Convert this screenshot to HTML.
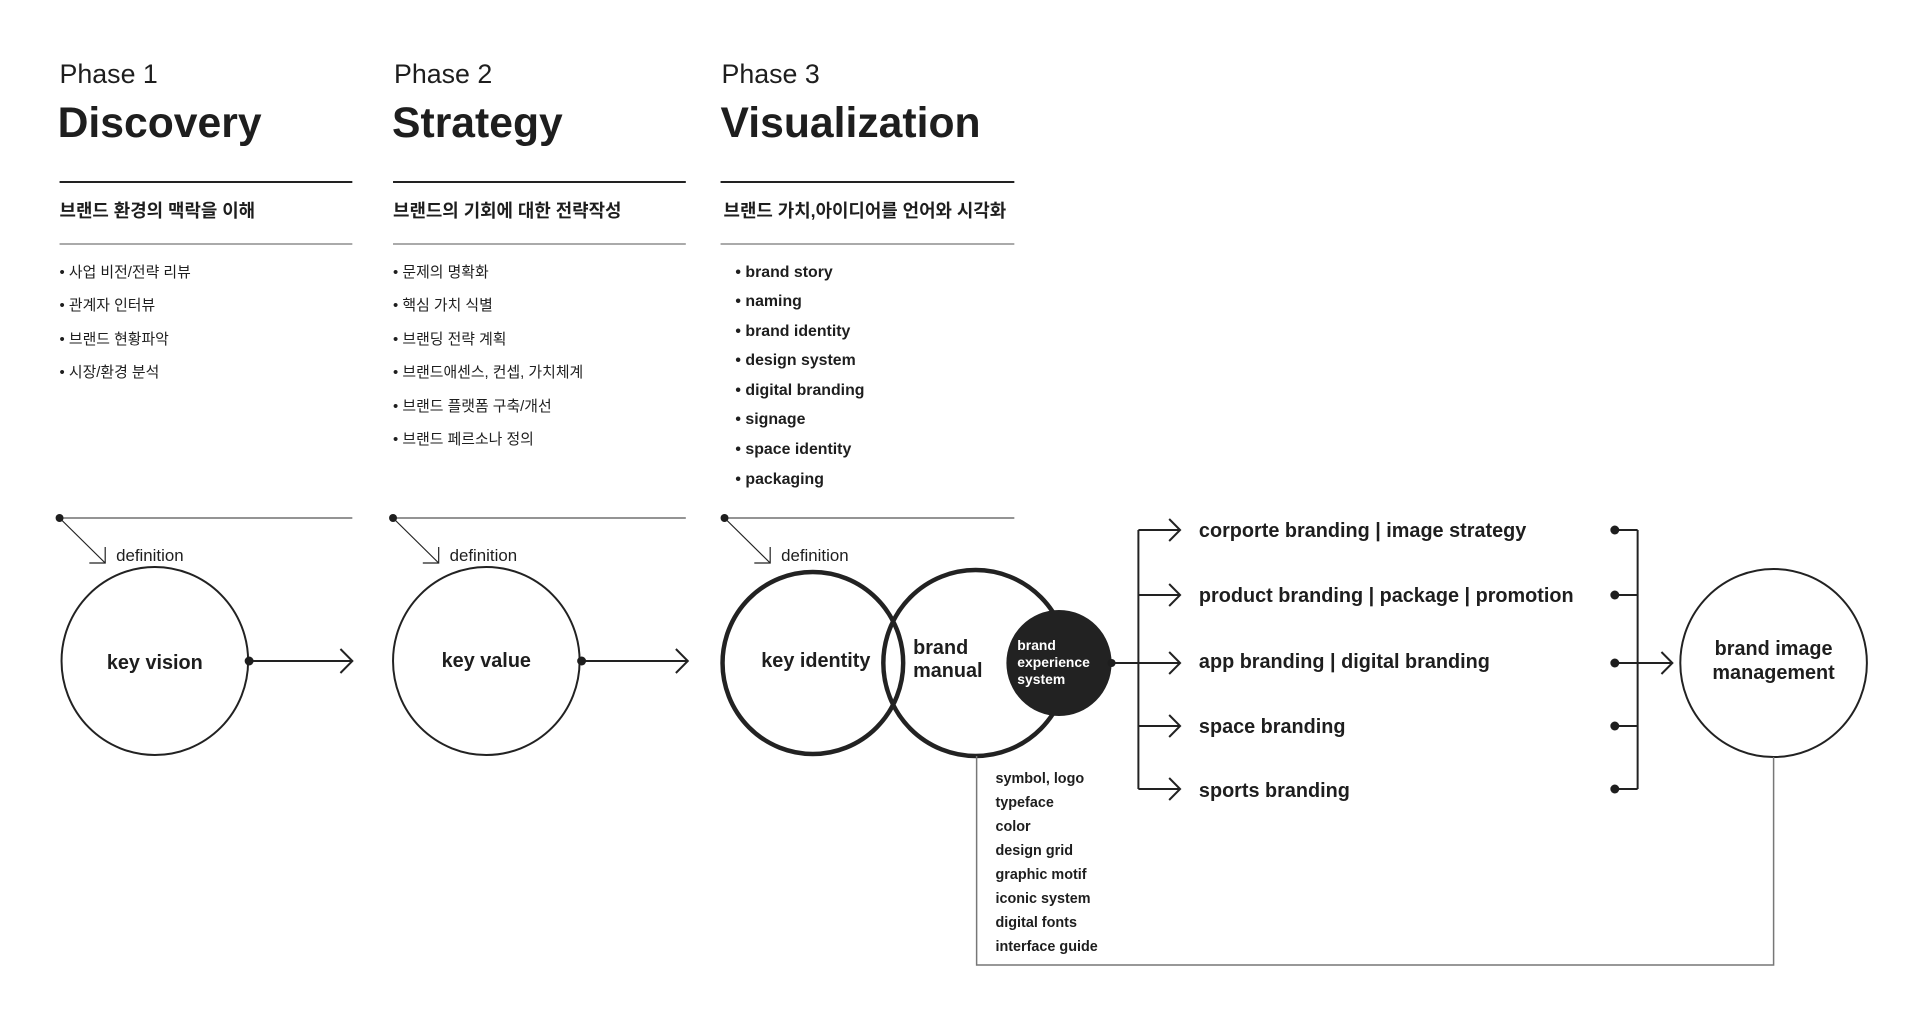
<!DOCTYPE html>
<html><head><meta charset="utf-8"><style>
html,body{margin:0;padding:0;background:#fff;}
svg{display:block;}
text{font-family:"Liberation Sans","Noto Sans CJK KR",sans-serif;fill:#1e1e1e;}
.ph{font-size:27px;}
.ti{font-size:43px;font-weight:bold;}
.sub{font-size:18px;font-weight:bold;}
.bl{font-size:15px;}
.bl3{font-size:16px;font-weight:bold;}
.def{font-size:17px;}
.cl{font-size:20px;font-weight:bold;}
.row{font-size:20px;font-weight:bold;}
.ls{font-size:14.5px;font-weight:bold;}
</style></head><body>
<svg width="1919" height="1012" viewBox="0 0 1919 1012" xmlns="http://www.w3.org/2000/svg">
<g transform="scale(0.9925,1)">
<g stroke="#222" fill="none">
<line x1="60" y1="182" x2="355" y2="182" stroke-width="2"/>
<line x1="396" y1="182" x2="691" y2="182" stroke-width="2"/>
<line x1="726" y1="182" x2="1022" y2="182" stroke-width="2"/>
<line x1="60" y1="244" x2="355" y2="244" stroke="#777" stroke-width="1.3"/>
<line x1="396" y1="244" x2="691" y2="244" stroke="#777" stroke-width="1.3"/>
<line x1="726" y1="244" x2="1022" y2="244" stroke="#777" stroke-width="1.3"/>
<line x1="60" y1="518" x2="355" y2="518" stroke="#555" stroke-width="1.3"/>
<line x1="396" y1="518" x2="691" y2="518" stroke="#555" stroke-width="1.3"/>
<line x1="730" y1="518" x2="1022" y2="518" stroke="#555" stroke-width="1.3"/>
<g stroke-width="1.2">
<line x1="60" y1="518" x2="106" y2="563"/><polyline points="90,563 106,563 106,547"/>
<line x1="396" y1="518" x2="442" y2="563"/><polyline points="426,563 442,563 442,547"/>
<line x1="730" y1="518" x2="776" y2="563"/><polyline points="760,563 776,563 776,547"/>
</g>
<circle cx="156" cy="661" r="94" stroke-width="2"/>
<circle cx="490" cy="661" r="94" stroke-width="2"/>
<line x1="252" y1="661" x2="355" y2="661" stroke-width="2"/><polyline points="343,649 355,661 343,673" stroke-width="2"/>
<line x1="586" y1="661" x2="693" y2="661" stroke-width="2"/><polyline points="681,649 693,661 681,673" stroke-width="2"/>
<circle cx="819" cy="663" r="91" stroke-width="4.5"/>
<circle cx="983" cy="663" r="93" stroke-width="4.5"/>
<circle cx="1787" cy="663" r="94" stroke-width="2"/>
<line x1="1120" y1="663" x2="1147" y2="663" stroke-width="2"/>
<line x1="1147" y1="530" x2="1147" y2="789" stroke-width="2"/>
<g stroke-width="2">
<line x1="1147" y1="530" x2="1189" y2="530"/><polyline points="1178,519 1189,530 1178,541"/>
<line x1="1147" y1="595" x2="1189" y2="595"/><polyline points="1178,584 1189,595 1178,606"/>
<line x1="1147" y1="663" x2="1189" y2="663"/><polyline points="1178,652 1189,663 1178,674"/>
<line x1="1147" y1="726" x2="1189" y2="726"/><polyline points="1178,715 1189,726 1178,737"/>
<line x1="1147" y1="789" x2="1189" y2="789"/><polyline points="1178,778 1189,789 1178,800"/>
<line x1="1627" y1="530" x2="1650" y2="530"/>
<line x1="1627" y1="595" x2="1650" y2="595"/>
<line x1="1627" y1="663" x2="1650" y2="663"/>
<line x1="1627" y1="726" x2="1650" y2="726"/>
<line x1="1627" y1="789" x2="1650" y2="789"/>
<line x1="1650" y1="530" x2="1650" y2="789"/>
<line x1="1650" y1="663" x2="1685" y2="663"/><polyline points="1674,652 1685,663 1674,674"/>
</g>
<polyline points="1787,757 1787,965 984,965 984,756" stroke="#777" stroke-width="1.5"/>
</g>
<g fill="#1e1e1e">
<circle cx="60" cy="518" r="4"/><circle cx="396" cy="518" r="4"/><circle cx="730" cy="518" r="4"/>
<circle cx="251" cy="661" r="4.5"/><circle cx="586" cy="661" r="4.5"/>
<circle cx="1067" cy="663" r="53" fill="#222"/><circle cx="1120" cy="663" r="4"/>
<circle cx="1627" cy="530" r="4.5"/><circle cx="1627" cy="595" r="4.5"/><circle cx="1627" cy="663" r="4.5"/><circle cx="1627" cy="726" r="4.5"/><circle cx="1627" cy="789" r="4.5"/>
</g>
<text class="ph" x="60" y="83">Phase 1</text>
<text class="ph" x="397" y="83">Phase 2</text>
<text class="ph" x="727" y="83">Phase 3</text>
<text class="ti" x="58" y="137">Discovery</text>
<text class="ti" x="395" y="137">Strategy</text>
<text class="ti" x="726" y="137">Visualization</text>
<text class="sub" x="60" y="217">브랜드 환경의 맥락을 이해</text>
<text class="sub" x="396" y="217">브랜드의 기회에 대한 전략작성</text>
<text class="sub" x="729" y="217">브랜드 가치,아이디어를 언어와 시각화</text>
<g class="bl">
<text x="60" y="277">•  사업 비전/전략 리뷰</text>
<text x="60" y="310">•  관계자 인터뷰</text>
<text x="60" y="344">•  브랜드 현황파악</text>
<text x="60" y="377">•  시장/환경 분석</text>
<text x="396" y="277">•  문제의 명확화</text>
<text x="396" y="310">•  핵심 가치 식별</text>
<text x="396" y="344">•  브랜딩 전략 계획</text>
<text x="396" y="377">•  브랜드애센스, 컨셉, 가치체계</text>
<text x="396" y="411">•  브랜드 플랫폼 구축/개선</text>
<text x="396" y="444">•  브랜드 페르소나 정의</text>
</g>
<g class="bl3">
<text x="741" y="277">•  brand story</text>
<text x="741" y="306">•  naming</text>
<text x="741" y="336">•  brand identity</text>
<text x="741" y="365">•  design system</text>
<text x="741" y="395">•  digital branding</text>
<text x="741" y="424">•  signage</text>
<text x="741" y="454">•  space identity</text>
<text x="741" y="484">•  packaging</text>
</g>
<text class="def" x="117" y="561">definition</text>
<text class="def" x="453" y="561">definition</text>
<text class="def" x="787" y="561">definition</text>
<text class="cl" x="156" y="669" text-anchor="middle">key vision</text>
<text class="cl" x="490" y="667" text-anchor="middle">key value</text>
<text class="cl" x="822" y="667" text-anchor="middle">key identity</text>
<text class="cl" x="920" y="654">brand</text>
<text class="cl" x="920" y="677">manual</text>
<text x="1025" y="650" style="font-size:14px;font-weight:bold;fill:#fff">brand</text>
<text x="1025" y="667" style="font-size:14px;font-weight:bold;fill:#fff">experience</text>
<text x="1025" y="684" style="font-size:14px;font-weight:bold;fill:#fff">system</text>
<text class="cl" x="1787" y="655" text-anchor="middle">brand image</text>
<text class="cl" x="1787" y="679" text-anchor="middle">management</text>
<g class="row">
<text x="1208" y="537">corporte branding | image strategy</text>
<text x="1208" y="602">product branding | package | promotion</text>
<text x="1208" y="668">app branding | digital branding</text>
<text x="1208" y="733">space branding</text>
<text x="1208" y="797">sports branding</text>
</g>
<g class="ls">
<text x="1003" y="783">symbol, logo</text>
<text x="1003" y="807">typeface</text>
<text x="1003" y="831">color</text>
<text x="1003" y="855">design grid</text>
<text x="1003" y="879">graphic motif</text>
<text x="1003" y="903">iconic system</text>
<text x="1003" y="927">digital fonts</text>
<text x="1003" y="951">interface guide</text>
</g>
</g>
</svg>
</body></html>
